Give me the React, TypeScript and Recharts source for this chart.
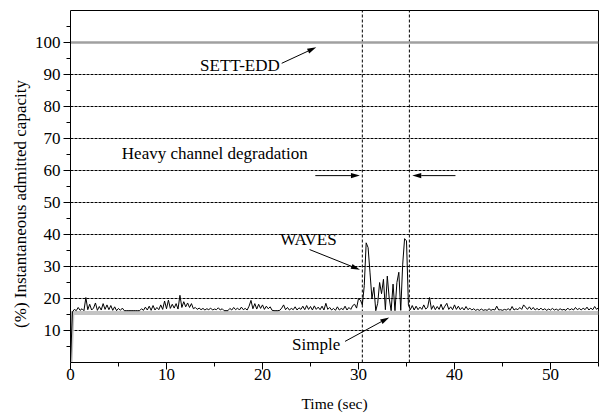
import React from "react";
import { LineChart, Line, XAxis, YAxis, ReferenceLine, ReferenceDot, Label } from "recharts";

// WAVES: instantaneous admitted capacity (%) sampled every 0.2 s from 0 to 55 s
const wavesStep = 0.2;
const wavesValues = [
  0, 15.8, 16.6, 16.2, 17.2, 16.3, 16.8, 16.2, 20.3, 16.5,
  18.2, 16.4, 17.0, 18.6, 16.3, 17.5, 16.4, 18.4, 16.6, 18.0,
  16.5, 17.8, 16.3, 17.4, 16.2, 16.9, 16.3, 17.0, 16.2, 16.2,
  16.2, 16.2, 16.2, 16.2, 16.2, 16.2, 16.2, 16.8, 16.3, 17.3,
  16.4, 17.6, 16.3, 17.8, 16.4, 17.2, 16.5, 18.0, 16.6, 19.2,
  16.8, 19.5, 16.9, 18.2, 17.0, 18.4, 16.7, 21.0, 17.2, 19.0,
  17.4, 18.6, 17.2, 18.4, 16.8, 17.2, 16.6, 17.0, 16.5, 16.9,
  16.4, 16.8, 16.5, 17.0, 16.4, 16.7, 16.5, 17.1, 16.4, 16.8,
  16.2, 16.2, 16.2, 16.9, 16.4, 17.2, 16.5, 17.0, 16.4, 17.3,
  16.5, 16.9, 16.4, 17.6, 19.4, 16.8, 18.4, 16.7, 18.2, 16.9,
  18.0, 16.6, 17.6, 16.8, 17.4, 16.3, 16.2, 16.2, 16.2, 16.3,
  17.0, 18.0, 16.5, 17.2, 16.4, 16.9, 16.5, 17.4, 16.4, 17.1,
  16.6, 17.6, 16.5, 17.8, 16.6, 17.5, 16.4, 17.7, 16.6, 17.3,
  16.5, 17.6, 16.4, 18.5, 16.6, 17.2, 16.4, 16.9, 16.3, 17.4,
  16.4, 16.9, 16.5, 17.6, 16.4, 17.2, 16.6, 17.8, 18.2, 17.0,
  20.0, 19.5, 18.0, 24.0, 37.4, 35.9, 28.0, 20.0, 23.5, 16.2,
  18.5, 25.0, 21.5, 26.0, 16.5, 27.0, 20.0, 16.2, 24.5, 16.2,
  25.0, 28.2, 16.3, 30.5, 38.7, 38.0, 18.0, 16.5, 17.8, 16.4,
  17.6, 16.5, 17.3, 16.6, 18.0, 16.7, 17.2, 20.3, 16.6, 17.8,
  16.5, 17.5, 16.6, 18.2, 16.5, 17.6, 18.5, 16.6, 17.4, 16.5,
  18.0, 16.6, 17.6, 16.5, 17.2, 16.4, 17.5, 16.5, 17.0, 16.4,
  16.8, 16.3, 16.6, 16.3, 16.7, 16.3, 16.5, 16.3, 16.8, 16.3,
  16.6, 16.4, 17.6, 16.4, 16.5, 16.3, 16.6, 16.4, 16.8, 16.3,
  17.5, 16.4, 16.8, 16.5, 17.2, 16.6, 18.0, 17.3, 16.6, 17.4,
  16.5, 17.2, 16.4, 16.9, 16.4, 17.0, 16.4, 16.8, 16.3, 16.7,
  16.4, 16.9, 16.4, 16.7, 16.3, 16.8, 16.4, 16.6, 16.3, 17.0,
  16.4, 16.8, 16.4, 17.2, 16.5, 16.9, 16.4, 17.0, 16.5, 17.3,
  16.4, 17.0, 16.5, 17.5, 16.6, 17.2,
];

// Simple scheduler
const simpleTimes = [0, 0.2, 55];
const simpleValues = [0, 15.5, 15.5];

// SETT-EDD scheduler
const settTimes = [0, 55];
const settValues = [100, 100];

// Heavy channel degradation window (s)
const degradationWindow = [30.4, 35.3];

const xTicks = [0, 5, 10, 15, 20, 25, 30, 35, 40, 45, 50, 55];
const yTicks = [5, 10, 15, 20, 25, 30, 35, 40, 45, 50, 55, 60, 65, 70, 75, 80, 85, 90, 95, 100, 105];
const gridValues = [10, 20, 30, 40, 50, 60, 70, 80, 90, 100];

const wavesData = wavesValues.map((v, i) => ({ t: Math.round(i * wavesStep * 10) / 10, v }));
const simpleData = simpleTimes.map((t, i) => ({ t, v: simpleValues[i] }));
const settData = settTimes.map((t, i) => ({ t, v: settValues[i] }));

const FONT = "'Liberation Serif', 'Times New Roman', serif";
const FS = 17;

const XTick = (props: any) => {
  const { x, y, payload } = props;
  const v = payload.value;
  const major = v % 10 === 0;
  const ay = y - 10;
  return (
    <g>
      <line x1={x} x2={x} y1={ay} y2={ay + (major ? 7 : 4)} stroke="#000" strokeWidth={1} />
      {major && (
        <text x={x} y={ay + 17} textAnchor="middle" fontFamily={FONT} fontSize={FS} fill="#000">
          {v}
        </text>
      )}
    </g>
  );
};

const YTick = (props: any) => {
  const { x, y, payload } = props;
  const v = payload.value;
  const major = v % 10 === 0;
  const ax = x + 10;
  return (
    <g>
      <line x1={ax - (major ? 7 : 4)} x2={ax} y1={y} y2={y} stroke="#000" strokeWidth={1} />
      {major && (
        <text x={x} y={y + 5.7} textAnchor="end" fontFamily={FONT} fontSize={FS} fill="#000">
          {v}
        </text>
      )}
    </g>
  );
};

const Arrow = (props: any) => {
  const { x1, y1, x2, y2 } = props;
  const dx = x2 - x1;
  const dy = y2 - y1;
  const len = Math.sqrt(dx * dx + dy * dy) || 1;
  const ux = dx / len;
  const uy = dy / len;
  const hl = 9;
  const hw = 2.6;
  const bx = x2 - ux * hl;
  const by = y2 - uy * hl;
  const pts = `${x2},${y2} ${bx - uy * hw},${by + ux * hw} ${bx + uy * hw},${by - ux * hw}`;
  return (
    <g>
      <line x1={x1} y1={y1} x2={bx} y2={by} stroke="#000" strokeWidth={1} />
      <polygon points={pts} fill="#000" />
    </g>
  );
};

const arrows = [
  { from: [22.0, 93.5], to: [25.6, 98.5] },
  { from: [24.9, 35.3], to: [30.15, 29.0] },
  { from: [28.6, 6.6], to: [33.2, 14.1] },
  { from: [25.5, 58.4], to: [30.15, 58.4] },
  { from: [40.1, 58.4], to: [35.6, 58.4] },
];

const notes = [
  { text: "SETT-EDD", at: [21.8, 93.0] },
  { text: "Heavy channel degradation", at: [24.72, 65.6] },
  { text: "WAVES", at: [27.72, 38.5] },
  { text: "Simple", at: [28.1, 5.8] },
];

export default function App() {
  return (
    <div style={{ position: "absolute", left: 0, top: 0, width: 607, height: 417, background: "#fff" }}>
      <LineChart width={607} height={417} margin={{ top: 10.5, right: 8.5, bottom: 0, left: 0 }}>
        <XAxis
          dataKey="t"
          type="number"
          domain={[0, 55]}
          ticks={xTicks}
          interval={0}
          tickSize={7}
          tickMargin={3}
          tickLine={false}
          tick={<XTick />}
          height={54.5}
          stroke="#000"
          allowDataOverflow
        >
          <Label
            content={(p: any) => {
              const vb = p.viewBox || { x: 70.5, y: 362.5, width: 528 };
              return (
                <text x={vb.x + vb.width / 2} y={vb.y + 46.5} textAnchor="middle" fontFamily={FONT} fontSize={15.5} fill="#000">
                  Time (sec)
                </text>
              );
            }}
          />
        </XAxis>
        <YAxis
          type="number"
          domain={[0, 110]}
          ticks={yTicks}
          interval={0}
          tickSize={7}
          tickMargin={3}
          tickLine={false}
          tick={<YTick />}
          width={70.5}
          stroke="#000"
          allowDataOverflow
        >
          <Label
            content={() => (
              <text
                x={20}
                y={204}
                transform="rotate(-90, 20, 204)"
                textAnchor="middle"
                dominantBaseline="central"
                fontFamily={FONT}
                fontSize={FS}
                fill="#000"
              >
                (%) Instantaneous admitted capacity
              </text>
            )}
          />
        </YAxis>
        {gridValues.map((g) => (
          <ReferenceLine key={`g${g}`} y={g} stroke="#000" strokeWidth={1} strokeDasharray="3 1" />
        ))}
        <ReferenceLine y={110} stroke="#000" strokeWidth={1} />
        <ReferenceLine x={55} stroke="#000" strokeWidth={1} />
        {degradationWindow.map((x) => (
          <ReferenceLine key={`d${x}`} x={x} stroke="#000" strokeWidth={1} strokeDasharray="3 2" />
        ))}
        <Line data={simpleData} dataKey="v" stroke="#c4c4c4" strokeWidth={4} dot={false} activeDot={false} isAnimationActive={false} />
        <Line data={settData} dataKey="v" stroke="#a0a0a0" strokeWidth={2.5} dot={false} activeDot={false} isAnimationActive={false} />
        <Line data={wavesData} dataKey="v" stroke="#000" strokeWidth={1} dot={false} activeDot={false} isAnimationActive={false} />
        {arrows.map((a, i) => (
          <ReferenceLine
            key={`a${i}`}
            segment={[{ x: a.from[0], y: a.from[1] }, { x: a.to[0], y: a.to[1] }]}
            shape={<Arrow />}
          />
        ))}
        {notes.map((n, i) => (
          <ReferenceDot
            key={`n${i}`}
            x={n.at[0]}
            y={n.at[1]}
            r={0}
            stroke="none"
            fill="none"
            label={{ value: n.text, position: "left", offset: 0, fontFamily: FONT, fontSize: FS, fill: "#000" }}
          />
        ))}
      </LineChart>
    </div>
  );
}
